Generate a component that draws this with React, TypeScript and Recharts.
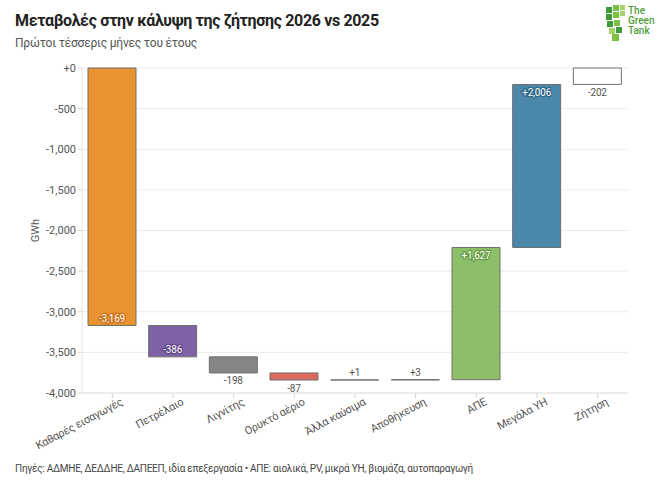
import { Bar, BarChart, CartesianGrid, Cell, LabelList, XAxis, YAxis } from "recharts";

// Changes in demand coverage, first four months, 2026 vs 2025 (GWh)
const categories = [
	"Καθαρές εισαγωγές",
	"Πετρέλαιο",
	"Λιγνίτης",
	"Ορυκτό αέριο",
	"Άλλα καύσιμα",
	"Αποθήκευση",
	"ΑΠΕ",
	"Μεγάλα ΥΗ",
	"Ζήτηση",
];
const deltas = [-3169, -386, -198, -87, 1, 3, 1627, 2006, -202];
// last bar is the total, drawn from zero
const isTotal = [false, false, false, false, false, false, false, false, true];
const barColors = [
	"#e8932f",
	"#7d62a5",
	"#858585",
	"#d96a5c",
	"#8a8a8a",
	"#8a8a8a",
	"#8cbf68",
	"#4a87a8",
	"#ffffff",
];
const haloColors = [
	"#c8701a",
	"#5f4588",
	"#666",
	"#b44a3d",
	"#666",
	"#666",
	"#6a9d48",
	"#2f6888",
	"#fff",
];
const yTicks = [-4000, -3500, -3000, -2500, -2000, -1500, -1000, -500, 0];

const FONT = "Roboto, 'Noto Sans', sans-serif";

let running = 0;
const chartData = categories.map((name, i) => {
	if (isTotal[i]) {
		return { name, range: [Math.min(deltas[i], 0), Math.max(deltas[i], 0)], delta: deltas[i] };
	}
	const start = running;
	running += deltas[i];
	return {
		name,
		range: [Math.min(start, running), Math.max(start, running)],
		delta: deltas[i],
	};
});

const fmt = (v: number) => (v > 0 ? "+" : "") + v.toLocaleString("en-US");

function ValueLabel(props: any) {
	const { x, y, width, height, value, index } = props;
	const top = Math.min(y, y + height);
	const bottom = Math.max(y, y + height);
	const size = bottom - top;
	const cx = x + width / 2;
	const inside = size > 24;
	let ty: number;
	if (value < 0) ty = inside ? bottom - 7 : bottom + 8;
	else ty = inside ? top + 8 : top - 7;
	return (
		<text
			x={cx}
			y={ty}
			dy="0.35em"
			textAnchor="middle"
			fontSize={10}
			fontFamily={FONT}
			letterSpacing={-0.2}
			fill={inside ? "#fff" : "#555"}
			stroke={inside ? haloColors[index] : "none"}
			strokeWidth={inside ? 2.5 : 0}
			strokeLinejoin="round"
			style={{ paintOrder: "stroke" }}
		>
			{fmt(value)}
		</text>
	);
}

function CategoryTick({ x, y, payload }: any) {
	return (
		<g transform={`translate(${x},${y})`}>
			<text
				x={8}
				y={9}
				textAnchor="end"
				transform="rotate(-28)"
				fontSize={11}
				fontFamily={FONT}
				letterSpacing={-0.2}
				fill="#555"
			>
				{payload.value}
			</text>
		</g>
	);
}

function Logo() {
	const squares = [
		[0, 4, 6], [7, 2, 6], [14, 2, 5], [0, 11, 6], [7, 9, 6], [14, 8, 5],
		[1, 18, 6], [8, 17, 6], [3, 25, 6], [10, 24, 6], [6, 31, 7],
	];
	return (
		<svg width={50} height={40} style={{ position: "absolute", left: 606, top: 3 }}>
			{squares.map(([sx, sy, s], i) => (
				<rect key={i} x={sx} y={sy} width={s} height={s} fill={i % 3 === 0 ? "#3f9a3a" : i % 3 === 1 ? "#7cc142" : "#a7d46a"} />
			))}
			<text fontFamily={FONT} fontSize={10} fill="#4f9b3a" fontWeight={500}>
				<tspan x={22} y={11}>The</tspan>
				<tspan x={22} y={21}>Green</tspan>
				<tspan x={22} y={31}>Tank</tspan>
			</text>
		</svg>
	);
}

export default function App() {
	return (
		<div
			style={{
				position: "absolute",
				left: 0,
				top: 0,
				width: 668,
				height: 486,
				background: "#fff",
				fontFamily: FONT,
			}}
		>
			<div
				style={{
					position: "absolute",
					left: 15,
					top: 11,
					fontSize: 16,
					fontWeight: 700,
					letterSpacing: -0.35,
					color: "#222",
					whiteSpace: "nowrap",
				}}
			>
				Μεταβολές στην κάλυψη της ζήτησης 2026 vs 2025
			</div>
			<div style={{ position: "absolute", left: 15, top: 36, fontSize: 12, letterSpacing: -0.2, color: "#555" }}>
				Πρώτοι τέσσερις μήνες του έτους
			</div>
			<Logo />
			<div style={{ position: "absolute", left: 0, top: 0 }}>
				<BarChart
					width={668}
					height={486}
					data={chartData}
					margin={{ top: 68, right: 40, left: 22, bottom: 33 }}
				>
					<CartesianGrid vertical={false} stroke="#ececec" />
					<XAxis
						dataKey="name"
						height={60}
						interval={0}
						tick={<CategoryTick />}
						axisLine={{ stroke: "#e3e3e3" }}
						tickLine={{ stroke: "#d5d5d5" }}
						tickSize={5}
					/>
					<YAxis
						width={60}
						domain={[-4000, 0]}
						ticks={yTicks}
						interval={0}
						tickFormatter={(v: number) => (v === 0 ? "+0" : v.toLocaleString("en-US"))}
						tick={{ fontSize: 11, fill: "#555", fontFamily: FONT }}
						axisLine={{ stroke: "#e3e3e3" }}
						tickLine={{ stroke: "#d5d5d5" }}
						tickSize={4}
						label={{
							value: "GWh",
							angle: -90,
							position: "insideLeft",
							offset: 13,
							style: { fontSize: 11, fill: "#555", fontFamily: FONT, textAnchor: "middle" },
						}}
					/>
					<Bar dataKey="range" isAnimationActive={false} stroke="#6f6f6f" strokeWidth={1} barSize={48}>
						{chartData.map((d, i) => (
							<Cell key={d.name} fill={barColors[i]} />
						))}
						<LabelList dataKey="delta" content={<ValueLabel />} />
					</Bar>
				</BarChart>
			</div>
			<div
				style={{
					position: "absolute",
					left: 15,
					top: 463,
					fontSize: 10,
					letterSpacing: -0.25,
					color: "#444",
					whiteSpace: "nowrap",
				}}
			>
				Πηγές: ΑΔΜΗΕ, ΔΕΔΔΗΕ, ΔΑΠΕΕΠ, ιδία επεξεργασία • ΑΠΕ: αιολικά, PV, μικρά ΥΗ, βιομάζα, αυτοπαραγωγή
			</div>
		</div>
	);
}
